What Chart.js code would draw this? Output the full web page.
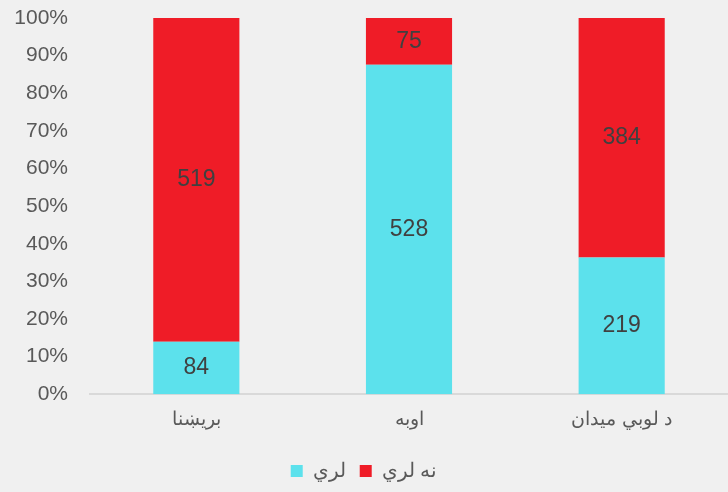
<!DOCTYPE html>
<html>
<head>
<meta charset="utf-8">
<script src="https://cdn.jsdelivr.net/npm/chart.js@4"></script>
<style>
  html, body { margin: 0; padding: 0; background: #f0f0f0; }
  #wrap { width: 728px; height: 492px; }
</style>
</head>
<body>
<div id="wrap"><canvas id="myChart"></canvas></div>
<script>
const categories = ['بريښنا', 'اوبه', 'د لوبي ميدان'];
const haveCounts = [84, 528, 219];     // لري
const notHaveCounts = [519, 75, 384];  // نه لري
const yTicks = [0, 10, 20, 30, 40, 50, 60, 70, 80, 90, 100];

document.addEventListener("DOMContentLoaded", function () {
    const totals = categories.map((c, i) => haveCounts[i] + notHaveCounts[i]);
    const pct = (arr) => arr.map((v, i) => v / totals[i] * 100);

    // draw the raw counts in the middle of each segment
    const countLabels = {
        id: 'countLabels',
        afterDatasetsDraw(chart) {
            const ctx = chart.ctx;
            ctx.save();
            ctx.font = "23px 'Liberation Sans', Arial, sans-serif";
            ctx.fillStyle = '#404040';
            ctx.textAlign = 'center';
            ctx.textBaseline = 'middle';
            chart.data.datasets.forEach((ds, di) => {
                chart.getDatasetMeta(di).data.forEach((bar, i) => {
                    const p = bar.getProps(['x', 'y', 'base'], true);
                    ctx.fillText(ds.counts[i], p.x, (p.y + p.base) / 2);
                });
            });
            ctx.restore();
        }
    };

    const config = {
        type: 'bar',
        data: {
            labels: categories,
            datasets: [{
                label: 'لري',
                data: pct(haveCounts),
                counts: haveCounts,
                backgroundColor: '#5ce1ec'
            }, {
                label: 'نه لري',
                data: pct(notHaveCounts),
                counts: notHaveCounts,
                backgroundColor: '#ef1c27'
            }]
        },
        options: {
            responsive: true,
            maintainAspectRatio: false,
            animation: false,
            layout: { padding: { top: 18, right: 0, left: 0, bottom: 1 } },
            datasets: {
                bar: { categoryPercentage: 1, barPercentage: 0.405 }
            },
            scales: {
                x: {
                    stacked: true,
                    afterFit: (s) => { s.height += 10; },
                    grid: { display: false },
                    border: { display: true, color: '#d9d9d9', width: 2 },
                    ticks: {
                        color: '#595959',
                        padding: 6,
                        font: { family: "'Liberation Sans', Arial, sans-serif", size: 19 }
                    }
                },
                y: {
                    stacked: true,
                    min: 0,
                    max: 100,
                    afterFit: (s) => { s.width = 90; s.paddingTop = 0; s.paddingBottom = 0; },
                    afterBuildTicks: (s) => { s.ticks = yTicks.map(v => ({ value: v })); },
                    grid: { display: false, drawTicks: false },
                    border: { display: false },
                    ticks: {
                        color: '#595959',
                        padding: 22,
                        callback: (v) => v + '%',
                        font: { family: "'Liberation Sans', Arial, sans-serif", size: 21 }
                    }
                }
            },
            plugins: {
                legend: {
                    position: 'bottom',
                    labels: {
                        color: '#595959',
                        boxWidth: 12,
                        boxHeight: 12,
                        padding: 14,
                        font: { family: "'Liberation Sans', Arial, sans-serif", size: 20 }
                    }
                },
                tooltip: { enabled: false }
            }
        },
        plugins: [countLabels]
    };

    var myBarChart = new Chart(document.getElementById('myChart'), config);
});
</script>
</body>
</html>
